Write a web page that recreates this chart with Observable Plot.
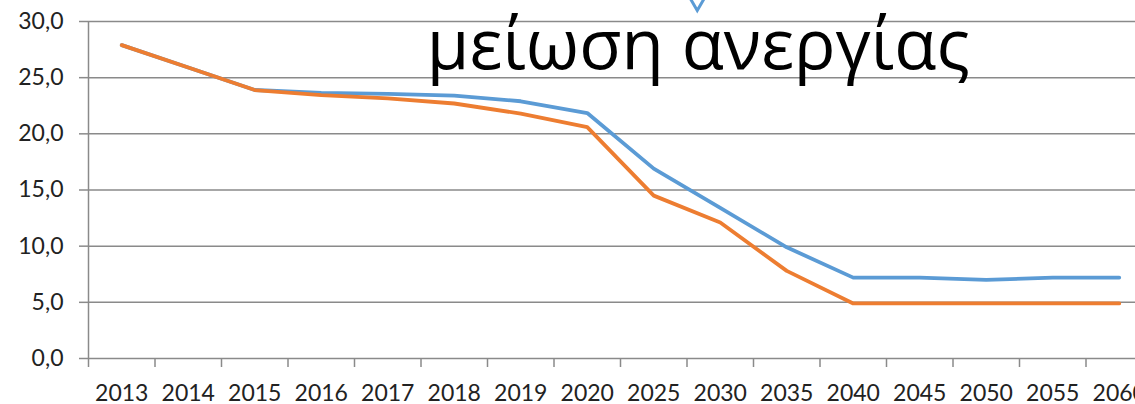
<!DOCTYPE html>
<html>
<head>
<meta charset="utf-8">
<script src="https://cdn.jsdelivr.net/npm/d3@7"></script>
<script src="https://cdn.jsdelivr.net/npm/@observablehq/plot@0.6"></script>
<style>
  html, body { margin: 0; padding: 0; background: #fff; overflow: hidden; width: 1135px; height: 404px; }
  #chart svg { display: block; max-width: none !important; }
</style>
</head>
<body>
<div id="chart"></div>
<script>
// ---- data ----
const years = ["2013","2014","2015","2016","2017","2018","2019","2020","2025","2030","2035","2040","2045","2050","2055","2060"];
const blueValues   = [27.9, 25.9, 23.9, 23.65, 23.55, 23.4, 22.9, 21.85, 16.9, 13.4, 9.9, 7.2, 7.2, 7.0, 7.2, 7.2];
const orangeValues = [27.9, 25.9, 23.9, 23.45, 23.15, 22.7, 21.8, 20.6, 14.5, 12.1, 7.8, 4.9, 4.9, 4.9, 4.9, 4.9];
const yTicks = [0, 5, 10, 15, 20, 25, 30];
const annotationText = "μείωση ανεργίας";

// ---- build table ----
const rows = [];
years.forEach((y, i) => {
  rows.push({year: y, value: blueValues[i], series: "blue"});
  rows.push({year: y, value: orangeValues[i], series: "orange"});
});

const gray = "#8a8a8a";
const blue = "#5B9BD5";
const orange = "#ED7D31";
const half = 1064 / 16 / 2;

const chart = Plot.plot({
  width: 1160,
  height: 404,
  marginLeft: 88,
  marginRight: 8,
  marginTop: 21,
  marginBottom: 46,
  style: {fontFamily: "Lato, sans-serif", fontSize: "23px", color: "#222", background: "#fff", maxWidth: "none"},
  x: {type: "point", domain: years, padding: 0.5, round: false, label: null},
  y: {domain: [0, 30], label: null},
  marks: [
    Plot.gridY(yTicks, {stroke: gray, strokeOpacity: 1, strokeWidth: 1.5}),
    Plot.ruleX([years[0]], {dx: -half, stroke: gray, strokeWidth: 1.5}),
    Plot.axisY(yTicks, {
      tickSize: 9, tickPadding: 16, stroke: gray, strokeWidth: 1.5, label: null,
      tickFormat: d => d.toFixed(1).replace(".", ","), fill: "#222"
    }),
    Plot.axisX({tickSize: 9, tickFormat: () => "", dx: -half, stroke: gray, strokeWidth: 1.5, label: null}),
    Plot.axisX({tickSize: 0, tickPadding: 26, label: null, fill: "#222"}),
    Plot.line(rows.filter(d => d.series === "blue"), {x: "year", y: "value", stroke: blue, strokeWidth: 3.8, strokeLinejoin: "round", strokeLinecap: "round"}),
    Plot.line(rows.filter(d => d.series === "orange"), {x: "year", y: "value", stroke: orange, strokeWidth: 3.8, strokeLinejoin: "round", strokeLinecap: "round"}),
    Plot.text([annotationText], {
      x: () => "2030", dx: -22, frameAnchor: "top", lineAnchor: "top", dy: -2,
      text: d => d, fontSize: 69, fontFamily: "Open Sans", fill: "#000"
    }),
    Plot.dot([0], {
      x: () => "2030", dx: -23, frameAnchor: "top", dy: -23.4,
      symbol: "triangle", rotate: 180, r: 8, fill: "#fff", stroke: blue, strokeWidth: 3
    })
  ]
});
document.getElementById("chart").appendChild(chart);
</script>
</body>
</html>
